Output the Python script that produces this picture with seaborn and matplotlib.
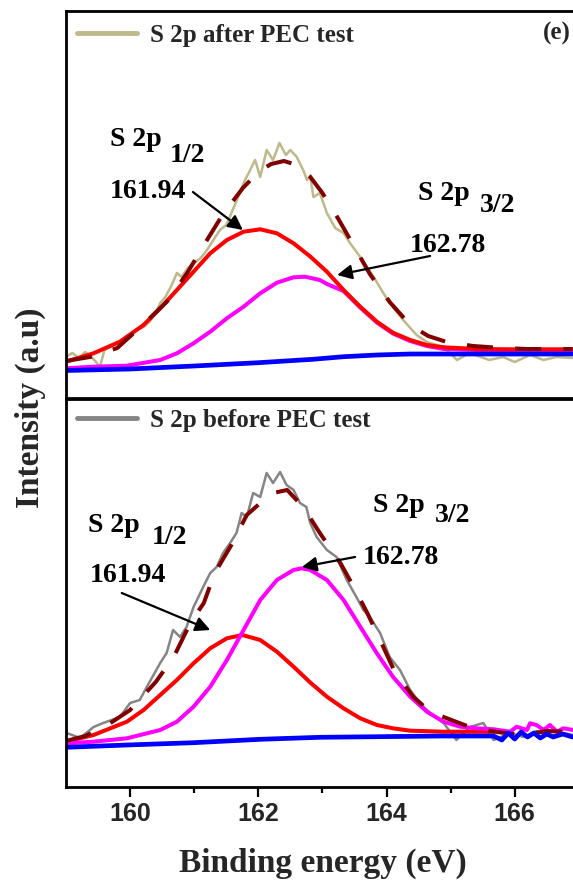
import matplotlib
matplotlib.use("Agg")
import matplotlib.pyplot as plt
import seaborn as sns
import pandas as pd

sns.set_theme(style="white")
plt.rcParams['font.family'] = ['Liberation Serif', 'DejaVu Serif']

# ---------------- data: upper panel (after PEC test) ----------------
after_raw_E = [159.0, 159.1, 159.2, 159.3, 159.4, 159.53, 159.6, 159.69, 159.8, 159.95,
               160.1, 160.21, 160.3, 160.4, 160.47, 160.55, 160.65, 160.73, 160.8, 160.9,
               161.0, 161.1, 161.2, 161.3, 161.4, 161.5, 161.6, 161.7, 161.77, 161.85,
               161.95, 162.03, 162.13, 162.23, 162.33, 162.43, 162.5, 162.6, 162.7, 162.76,
               162.81, 162.86, 162.96, 163.07, 163.2, 163.33, 163.43, 163.59, 163.8, 163.95,
               164.05, 164.26, 164.47, 164.63, 164.89, 165.1, 165.3, 165.6, 165.82, 166.0,
               166.24, 166.45, 166.65, 166.9]
after_raw_I = [41.3, 45, 40, 46, 41, 31.3, 48, 51, 55, 58,
               68, 71, 76, 85, 95, 101, 113, 125, 121, 130,
               135, 140, 148, 158, 168, 173, 188, 203, 215, 225,
               238, 221, 248, 238, 255, 243, 248, 241, 228, 218,
               222, 201, 205, 185, 170, 165, 155, 141, 121, 105,
               95, 78, 63, 56, 51, 38, 45, 38, 41, 36,
               43, 38, 41, 40]

after_p12_E = [159.0, 159.43, 159.84, 160.21, 160.47, 160.73, 160.99, 161.25, 161.51, 161.77,
               162.03, 162.29, 162.55, 162.81, 163.07, 163.33, 163.59, 163.85, 164.1, 164.37,
               164.63, 164.89, 165.41, 165.93, 166.9]
after_p12_I = [36.3, 44.7, 56.3, 73, 89.7, 108, 126.3, 144.7, 158, 166.3,
               168.7, 164.7, 154.7, 141.5, 126.3, 108, 91.3, 76.3, 65.3, 58,
               53, 50.7, 49, 48.7, 48.7]

after_p32_E = [159.0, 159.43, 159.95, 160.47, 160.73, 160.99, 161.25, 161.51, 161.77, 162.03,
               162.29, 162.55, 162.73, 162.96, 163.07, 163.33, 163.59, 163.85, 164.1, 164.37,
               164.63, 164.89, 165.41, 166.9]
after_p32_I = [29.7, 31.3, 32.3, 38, 44.7, 54.7, 66.3, 79.7, 91.3, 104.7,
               115.3, 120.7, 121.3, 118, 114, 107, 90.5, 75.5, 64.5, 57,
               52, 49, 48, 48]

after_fit_E = [159.0, 159.4, 159.8, 160.23, 160.6, 160.9, 161.2, 161.45, 161.76, 162.0,
               162.2, 162.4, 162.6, 162.8, 163.0, 163.24, 163.5, 163.74, 164.05, 164.37,
               164.65, 164.94, 165.35, 165.8, 166.2, 166.9]
after_fit_I = [37, 41.3, 50, 75, 98, 126, 158, 184, 210, 226,
               234, 237, 233, 222, 205, 180, 151, 124, 96, 73,
               62, 56, 52, 50, 49, 49]

after_bg_E = [159.0, 160.0, 161.0, 162.0, 162.85, 163.33, 163.85, 164.37, 165.0, 166.0, 166.9]
after_bg_I = [27.5, 29, 32, 35.3, 38.7, 41.3, 43, 44, 44, 44, 44]

# ---------------- data: lower panel (before PEC test) ----------------
before_raw_E = [159.01, 159.22, 159.43, 159.58, 159.84, 160.0, 160.15, 160.26, 160.47, 160.57,
                160.67, 160.78, 160.88, 160.99, 161.14, 161.25, 161.35, 161.45, 161.56, 161.66,
                161.74, 161.82, 161.92, 162.03, 162.13, 162.23, 162.34, 162.44, 162.55, 162.65,
                162.75, 162.81, 162.91, 163.07, 163.22, 163.38, 163.53, 163.64, 163.74, 163.9,
                164.05, 164.21, 164.37, 164.52, 164.68, 164.89, 165.09, 165.3, 165.51, 165.67,
                165.93, 166.14, 166.34, 166.55, 166.76, 166.91]
before_raw_I = [54, 49, 60, 64, 70, 84, 87, 100, 124, 134,
                157, 150, 160, 180, 200, 214, 220, 234, 244, 254,
                274, 270, 294, 290, 314, 304, 315, 302, 297, 284,
                280, 264, 250, 237, 230, 207, 190, 177, 170, 154,
                130, 117, 97, 84, 74, 64, 47, 60, 64, 47,
                54, 50, 56, 51, 54, 52]

before_p12_E = [159.0, 159.43, 159.95, 160.21, 160.47, 160.73, 160.99, 161.25, 161.51, 161.75,
                162.03, 162.29, 162.55, 162.81, 163.07, 163.33, 163.59, 163.85, 164.1, 164.37,
                164.89, 165.67]
before_p12_I = [45.3, 52, 65.3, 77, 92, 107, 123.7, 138.7, 148.7, 152,
                147, 135.3, 120.3, 104.5, 90.3, 78.7, 68.7, 62, 58.7, 56.3,
                55.3, 55.3]

before_p32_E = [159.0, 159.43, 159.95, 160.47, 160.73, 160.99, 161.25, 161.51, 161.77, 162.03,
                162.29, 162.55, 162.68, 162.81, 163.07, 163.33, 163.59, 163.85, 164.1, 164.37,
                164.63, 164.89, 165.15, 165.41, 165.67, 165.93, 166.03, 166.19, 166.24, 166.34,
                166.45, 166.55, 166.66, 166.76, 166.91]
before_p32_I = [43.7, 45.3, 48.7, 57, 65.3, 80.3, 100.3, 127, 157, 187,
                207, 217, 218.7, 217, 207, 187, 160.3, 133.7, 110.3, 90.3,
                75.3, 65.3, 60.3, 58.7, 57.7, 55.3, 60.3, 57, 63.7, 62,
                57, 62, 55.3, 58.7, 57]

before_fit_E = [159.0, 159.3, 159.6, 160.0, 160.4, 160.68, 160.94, 161.15, 161.32, 161.58,
                161.82, 162.05, 162.23, 162.45, 162.7, 162.96, 163.28, 163.49, 163.7, 163.9,
                164.13, 164.42, 164.65, 164.89, 165.3, 165.72, 166.13, 166.5, 166.9]
before_fit_I = [46, 51, 60, 77, 105, 130, 164, 184, 214, 242,
                272, 285, 294, 297, 280, 254, 224, 200, 174, 147,
                115, 90, 77, 70, 60, 55, 52, 56, 55]

before_bg_E = [159.0, 159.95, 160.99, 162.03, 162.96, 163.85, 164.89, 165.67, 165.8, 165.9,
               166.0, 166.1, 166.2, 166.3, 166.4, 166.5, 166.6, 166.75, 166.9]
before_bg_I = [39.7, 42, 44.3, 47.7, 49.7, 50.3, 51, 51, 47, 54,
               48, 55, 50, 54, 49, 53, 50, 53, 50]

x_ticks = [160, 162, 164, 166]
x_minor = [161, 163, 165]
legend_after = "S 2p after PEC test"
legend_before = "S 2p before PEC test"
peak_low = "161.94"
peak_high = "162.78"

# ---------------- figure ----------------
W, H = 573, 884
fig = plt.figure(figsize=(W / 100, H / 100), dpi=100)
left = 66 / W
width = 8 * 64.1 / W
ax_top = fig.add_axes([left, 1 - 398 / H, width, 387 / H])
ax_bot = fig.add_axes([left, 1 - 787 / H, width, 388 / H])

C_KHAKI = "#bdb98a"
C_GRAY = "#858585"
C_RED = "#ff0000"
C_MAG = "#ff00ff"
C_BLUE = "#0000ff"
C_DARK = "#800000"
LW = 2.9
DASH = (0, (6.5, 5.5))


def line(ax, E, I, **kw):
    df = pd.DataFrame({"E": E, "I": I})
    sns.lineplot(data=df, x="E", y="I", ax=ax, estimator=None, sort=False, **kw)


# upper panel
line(ax_top, after_raw_E, after_raw_I, color=C_KHAKI, lw=1.8, label=legend_after)
line(ax_top, after_p32_E, after_p32_I, color=C_MAG, lw=LW)
line(ax_top, after_p12_E, after_p12_I, color=C_RED, lw=LW)
line(ax_top, after_fit_E, after_fit_I, color=C_DARK, lw=LW, linestyle=DASH)
line(ax_top, after_bg_E, after_bg_I, color=C_BLUE, lw=LW + 0.5)

# lower panel
line(ax_bot, before_raw_E, before_raw_I, color=C_GRAY, lw=1.8, label=legend_before)
line(ax_bot, before_p12_E, before_p12_I, color=C_RED, lw=LW)
line(ax_bot, before_p32_E, before_p32_I, color=C_MAG, lw=LW)
line(ax_bot, before_fit_E, before_fit_I, color=C_DARK, lw=LW, linestyle=DASH)
line(ax_bot, before_bg_E, before_bg_I, color=C_BLUE, lw=LW + 0.5)

for ax, yl in ((ax_top, 387), (ax_bot, 388)):
    ax.set_xlim(159, 167)
    ax.set_ylim(0, yl)
    ax.set_yticks([])
    ax.set_xlabel("")
    ax.set_ylabel("")
    for s in ax.spines.values():
        s.set_linewidth(2.0)
        s.set_color("black")

ax_top.set_xticks([])
ax_top.tick_params(bottom=False, labelbottom=False)
ax_bot.set_xticks(x_ticks)
ax_bot.set_xticks(x_minor, minor=True)
ax_bot.set_xticklabels([str(t) for t in x_ticks], family="Liberation Sans",
                       fontweight="bold", fontsize=18)
ax_bot.tick_params(axis="x", which="major", bottom=True, direction="out",
                   length=7, width=1.6, pad=4, color="black")
ax_bot.tick_params(axis="x", which="minor", bottom=True, direction="out",
                   length=4, width=1.6, color="black")

TXT = dict(fontweight="bold", fontsize=20, color="black", va="center", ha="left")
ARW = dict(arrowstyle="-|>", lw=1.6, color="black", mutation_scale=22,
           shrinkA=0, shrinkB=0)

# legends
for ax, y in ((ax_top, 0.966), (ax_bot, 0.974)):
    ax.legend(loc="upper left", bbox_to_anchor=(0.022, y), frameon=False,
              prop=dict(family="Liberation Serif", weight="bold", size=18),
              handlelength=2.4, handletextpad=0.5, borderpad=0, borderaxespad=0)
    for ln in ax.get_legend().get_lines():
        ln.set_linewidth(3.5)

ax_top.text(0.985, 0.943, "(e)", transform=ax_top.transAxes, ha="right",
            va="center", fontweight="bold", fontsize=18)

# annotations upper
ax_top.text(159.69, 258, "S 2p", **TXT)
ax_top.text(160.62, 243, "1/2", **TXT)
ax_top.text(159.69, 206, peak_low, **TXT)
ax_top.annotate("", xy=(161.76, 168), xytext=(160.98, 206), arrowprops=ARW)
ax_top.text(164.49, 205, "S 2p", **TXT)
ax_top.text(165.46, 193, "3/2", **TXT)
ax_top.text(164.37, 153, peak_high, **TXT)
ax_top.annotate("", xy=(163.23, 123), xytext=(164.68, 142), arrowprops=ARW)

# annotations lower
ax_bot.text(159.34, 262, "S 2p", **TXT)
ax_bot.text(160.34, 249, "1/2", **TXT)
ax_bot.text(159.37, 212, peak_low, **TXT)
ax_bot.annotate("", xy=(161.25, 157), xytext=(159.87, 194), arrowprops=ARW)
ax_bot.text(163.79, 282, "S 2p", **TXT)
ax_bot.text(164.76, 272, "3/2", **TXT)
ax_bot.text(163.63, 230, peak_high, **TXT)
ax_bot.annotate("", xy=(162.68, 220), xytext=(163.51, 230), arrowprops=ARW)

fig.text(323 / W, 1 - 863 / H, "Binding energy (eV)", ha="center", va="center",
         fontweight="bold", fontsize=24)
fig.text(30 / W, 1 - 408 / H, "Intensity (a.u)", ha="center", va="center",
         rotation=90, fontweight="bold", fontsize=24)

fig.savefig("out.png", dpi=100)
